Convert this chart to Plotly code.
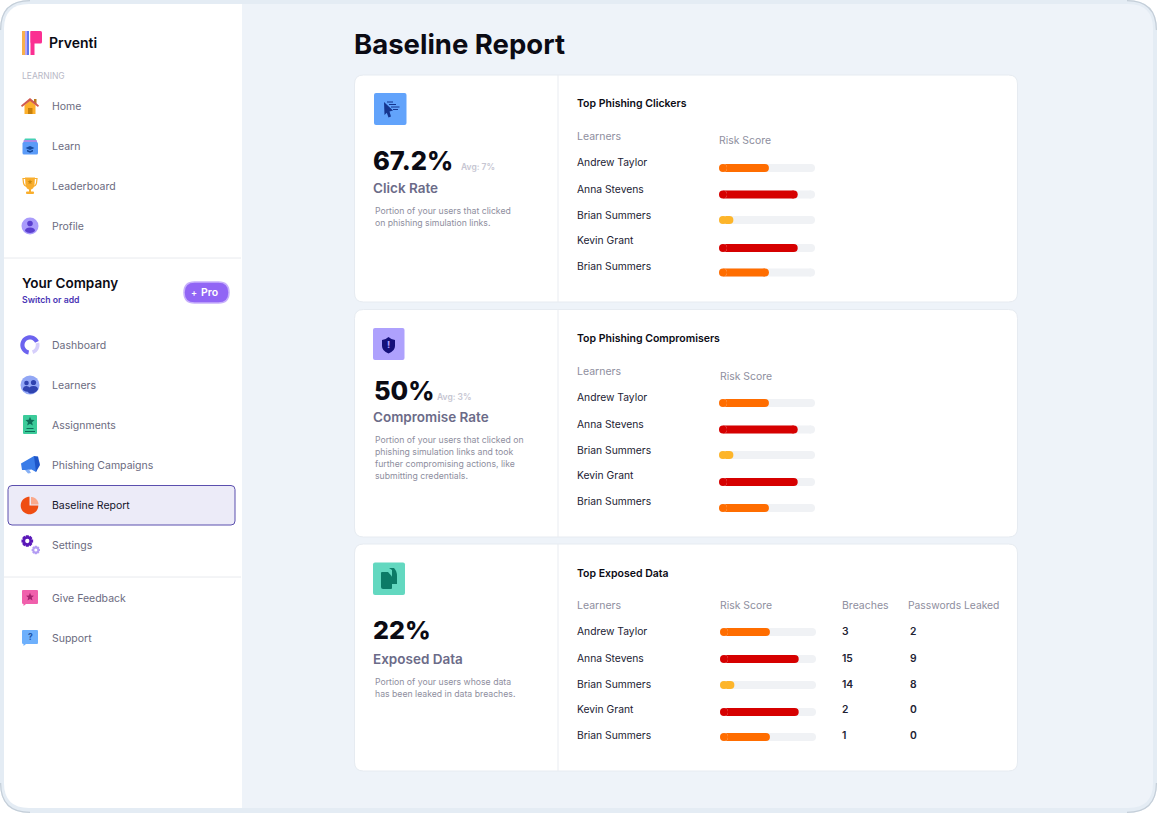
import math
import plotly.graph_objects as go

# ---------- data ----------
LEARNERS = ["Andrew Taylor", "Anna Stevens", "Brian Summers", "Kevin Grant", "Brian Summers"]
RISK_SCORES = [52, 82, 15, 82, 52]
RISK_COLORS = ["#FF6D00", "#D60000", "#FDB52A", "#D60000", "#FF6D00"]
TRACK_MAX = [100, 100, 100, 100, 100]
BREACHES = [3, 15, 14, 2, 1]
PASSWORDS_LEAKED = [2, 9, 8, 0, 0]
NAV_LEARNING = ["Home", "Learn", "Leaderboard", "Profile"]
NAV_COMPANY = ["Dashboard", "Learners", "Assignments", "Phishing Campaigns", "Baseline Report", "Settings"]
NAV_FOOTER = ["Give Feedback", "Support"]
STAT_VALUES = ["67.2%", "50%", "22%"]
STAT_AVGS = ["Avg: 7%", "Avg: 3%", ""]
STAT_NAMES = ["Click Rate", "Compromise Rate", "Exposed Data"]
STAT_DESCS = [
    ["Portion of your users that clicked", "on phishing simulation links."],
    ["Portion of your users that clicked on", "phishing simulation links and took",
     "further compromising actions, like", "submitting credentials."],
    ["Portion of your users whose data", "has been leaked in data breaches."],
]
CARD_TITLES = ["Top Phishing Clickers", "Top Phishing Compromisers", "Top Exposed Data"]

W, H = 1157, 813
FONT = "Inter"
shapes, annos = [], []


def txt(x, y, s, size=10.5, color="#6B6B80", weight=400, anchor="left", family=FONT):
    annos.append(dict(x=x, y=y, xref="x", yref="y", text=str(s), showarrow=False, xanchor=anchor,
                      yanchor="middle", align="left", borderpad=0, borderwidth=0,
                      font=dict(family=family, size=size, color=color, weight=weight)))


def path(d, fill, line=None, lw=0):
    shapes.append(dict(type="path", path=d, xref="x", yref="y", layer="below", fillcolor=fill,
                       line=dict(color=line or "rgba(0,0,0,0)", width=lw)))


def rr(x0, y0, x1, y1, r=0, fill="#fff", line=None, lw=0, corners=(1, 1, 1, 1)):
    tl, tr, br, bl = [r * c for c in corners]
    d = (f"M{x0+tl},{y0} L{x1-tr},{y0} Q{x1},{y0} {x1},{y0+tr} L{x1},{y1-br} Q{x1},{y1} {x1-br},{y1} "
         f"L{x0+bl},{y1} Q{x0},{y1} {x0},{y1-bl} L{x0},{y0+tl} Q{x0},{y0} {x0+tl},{y0} Z")
    path(d, fill, line, lw)


def circle(cx, cy, r, fill):
    shapes.append(dict(type="circle", xref="x", yref="y", layer="below", x0=cx - r, x1=cx + r,
                       y0=cy - r, y1=cy + r, fillcolor=fill, line=dict(width=0)))


def poly(pts, fill):
    path("M" + " L".join(f"{a:.2f},{b:.2f}" for a, b in pts) + " Z", fill)


def star(cx, cy, r, fill):
    pts = []
    for i in range(10):
        rad = r if i % 2 == 0 else r * 0.45
        a = -math.pi / 2 + i * math.pi / 5
        pts.append((cx + rad * math.cos(a), cy + rad * math.sin(a)))
    poly(pts, fill)


def gear(cx, cy, r, fill, hole="#FFFFFF"):
    pts = []
    for i in range(8):
        a0 = i * math.pi / 4
        for da, rad in ((-0.24, r), (0.24, r), (0.42, r * 0.74), (math.pi / 4 - 0.42, r * 0.74)):
            pts.append((cx + rad * math.cos(a0 + da), cy + rad * math.sin(a0 + da)))
    poly(pts, fill)
    circle(cx, cy, r * 0.36, hole)


def arc_ring(cx, cy, r0, r1, a0, a1, fill, n=30):
    pts = []
    for i in range(n + 1):
        a = math.radians(a0 + (a1 - a0) * i / n)
        pts.append((cx + r1 * math.cos(a), cy + r1 * math.sin(a)))
    for i in range(n, -1, -1):
        a = math.radians(a0 + (a1 - a0) * i / n)
        pts.append((cx + r0 * math.cos(a), cy + r0 * math.sin(a)))
    poly(pts, fill)


def corner_stroke(d):
    shapes.append(dict(type="path", path=d, xref="x", yref="y", layer="below",
                       line=dict(color="#C4CED8", width=1.2)))


# ---------- frame ----------
rr(0, 0, W, H, 30, "#E4ECF4")
R = 30
corner_stroke(f"M0.6,{R} Q0.6,0.6 {R},0.6")
corner_stroke(f"M{W-R},0.6 Q{W-0.6},0.6 {W-0.6},{R}")
corner_stroke(f"M0.6,{H-R} Q0.6,{H-0.6} {R},{H-0.6}")
corner_stroke(f"M{W-R},{H-0.6} Q{W-0.6},{H-0.6} {W-0.6},{H-R}")
rr(242, 4, W - 4, 808, 25, "#EEF3F9", corners=(0, 1, 1, 0))
rr(4, 4, 242, 808, 25, "#FFFFFF", corners=(1, 0, 0, 1))

# ---------- logo ----------
rr(22, 31, 25, 55, 0, "#F9B04B")
rr(25, 31, 27, 55, 0, "#B7A4F5")
rr(27, 31, 29, 55, 0, "#5E78EE")
rr(30.5, 31, 34.5, 55, 0, "#FB2F92")
rr(30.5, 31, 42, 43.5, 1.5, "#FB2F92")
txt(49, 42.5, "Prventi", 14, "#0B0B14", 600)
txt(21.5, 76, "LEARNING", 8.5, "#B8B8C6")

# ---------- sidebar ----------
LEARN_Y = [106, 146, 186, 226]
COMP_Y = [345, 385, 425, 465, 505, 545]
FOOT_Y = [598, 638]
rr(8, 485.5, 235, 525, 4, "#ECEBF8", "#5B4FAE", 1)
shapes.append(dict(type="line", xref="x", yref="y", layer="below", x0=4, x1=241, y0=258, y1=258,
                   line=dict(color="#E8EAEE", width=1)))
shapes.append(dict(type="line", xref="x", yref="y", layer="below", x0=4, x1=241, y0=577, y1=577,
                   line=dict(color="#E8EAEE", width=1)))
for lab, y in zip(NAV_LEARNING, LEARN_Y):
    txt(52, y, lab)
for lab, y in zip(NAV_COMPANY, COMP_Y):
    txt(52, y, lab, color="#14142B" if lab == "Baseline Report" else "#6B6B80")
for lab, y in zip(NAV_FOOTER, FOOT_Y):
    txt(52, y, lab)
txt(21.5, 283, "Your Company", 13.5, "#0B0B14", 600)
txt(22, 300, "Switch or add", 8.7, "#4A35B5", 600)
rr(184, 282, 229, 303, 10.5, "#9165F5", "#C7B0FB", 1.5)
txt(190.5, 292, "+", 9, "#FFFFFF", 600)
txt(201, 292.5, "Pro", 10.5, "#FFFFFF", 600)

# home
poly([(24.5, 105), (30, 100.5), (35.5, 105), (35.5, 114), (24.5, 114)], "#FDB02B")
rr(28, 108, 32.5, 114, 0, "#C7800B")
rr(34, 99, 36.5, 104, 0, "#B77A1B")
poly([(21, 105.5), (30, 98), (39, 105.5), (38, 107), (30, 101), (22, 107)], "#CF5A50")
# learn
rr(24.5, 138.5, 36, 142, 1, "#45D0B4")
rr(23.5, 140, 37, 144, 1, "#A98BE6")
rr(22.5, 142, 38, 154.5, 1.5, "#5B9BF8")
poly([(25.5, 148), (30, 146), (34.5, 148), (30, 150)], "#164B9E")
poly([(27, 149.7), (30, 151), (33, 149.7), (33, 151.5), (30, 152.8), (27, 151.5)], "#164B9E")
# trophy
path("M23,178.5 L37,178.5 L36.5,183 Q36,186 33,186.5 L27,186.5 Q24,186 23.5,183 Z", "rgba(0,0,0,0)", "#F9AE2D", 1.2)
path("M25,177.5 L35,177.5 L34.5,185 Q33.5,189 31,189.5 L29,189.5 Q26.5,189 25.5,185 Z", "#F9AE2D")
star(30, 182, 2.6, "#C98A10")
rr(29, 189, 31, 192, 0, "#F9AE2D")
rr(26, 191.5, 34, 194, 1, "#F9AE2D")
# profile
circle(30, 226, 8.5, "#A99BFB")
circle(30, 223.5, 2.8, "#5A3FD0")
path("M25,231 Q25,227.5 30,227.5 Q35,227.5 35,231 Q33,233 30,233 Q27,233 25,231 Z", "#5A3FD0")
# dashboard
arc_ring(30, 345, 5.8, 9.5, -15, 70, "#D6CFFB")
arc_ring(30, 345, 5.5, 9.7, 100, 335, "#6C63EF")
# learners
circle(30, 385, 9.5, "#92A7F5")
circle(26.5, 383, 2.3, "#2F43B0")
circle(33.5, 382.5, 2.6, "#2F43B0")
path("M22.8,390 Q23,386 26.5,386 Q29,386 29.5,388 L29.5,392 Q25,392 22.8,390 Z", "#2F43B0")
path("M27.5,390.5 Q28.5,386 33.5,386 Q38,386 38,389.5 Q35,394 30,393.5 Q28,393 27.5,390.5 Z", "#2F43B0")
# assignments
rr(23, 415, 37, 434, 1, "#3CCB9A")
star(30, 421.5, 4.8, "#0E6D58")
rr(26.5, 428, 33.5, 429, 0, "#0E6D58")
rr(25, 431, 35, 432, 0, "#0E6D58")
# phishing
poly([(21, 463.5), (34, 456), (39.5, 463), (36, 472), (31.5, 469.5), (27, 470), (22, 470)], "#3A7CE8")
poly([(34, 456), (38, 456.5), (40, 465), (36, 472)], "#1E55C8")
poly([(25, 470), (29, 469.5), (31, 473), (28, 473.5)], "#86B0F5")
# baseline pie
arc_ring(29.5, 505.5, 0, 8.8, 0, 270, "#EF4D12")
arc_ring(31, 504.5, 0, 7.5, 270, 360, "#FAA98C", n=12)
# settings
gear(27.3, 541, 6, "#5A18B8")
gear(35.8, 550, 4.3, "#B39CF3")
# feedback
path("M22,591 Q22,590 23,590 L37,590 Q38,590 38,591 L38,603 Q38,604 37,604 L26,604 L23.5,606 L23.5,604 Q22,604 22,603 Z", "#F060AC")
star(30, 597, 4.2, "#A3246F")
# support
path("M22,631 Q22,630 23,630 L37,630 Q38,630 38,631 L38,643 Q38,644 37,644 L26,644 L23.5,646 L23.5,644 Q22,644 22,643 Z", "#6EB0FC")
txt(30, 637, "?", 8.5, "#1E55A8", 700, anchor="center")

# ---------- main ----------
txt(354, 44, "Baseline Report", 27.5, "#0B0B14", 700)
CARDS = [(75, 302), (309.5, 537), (544, 771)]
for top, bot in CARDS:
    rr(354.5, top, 1017.5, bot, 9, "#FFFFFF", "#E6EBF1", 1)
    shapes.append(dict(type="line", xref="x", yref="y", layer="below", x0=558, x1=558, y0=top, y1=bot,
                       line=dict(color="#E9ECF1", width=1)))

# stat icons
rr(374, 93, 406.5, 125, 2, "#62A3FB")
poly([(384, 102), (393, 110.5), (389.5, 111.5), (391, 116.5), (388.5, 117.5), (386.8, 112.8), (384.5, 115)], "#15358F")
for yy, x0, x1 in ((102, 387, 393), (104.5, 389, 396), (107, 391, 399.5), (109.5, 393, 398)):
    shapes.append(dict(type="line", xref="x", yref="y", layer="below", x0=x0, x1=x1, y0=yy, y1=yy,
                       line=dict(color="#15358F", width=1)))
rr(373, 328, 404.5, 360, 2, "#AEA1FD")
path("M382,340 Q386,339.5 388.5,337 Q391,339.5 395,340 L395,346 Q395,351 388.5,353.5 Q382,351 382,346 Z", "#15107A")
txt(388.5, 344.5, "!", 9, "#AEA1FD", 800, anchor="center")
rr(373, 562.5, 405, 595, 2, "#63D8C0")
path("M389,568 L394,568 Q397,571 397,576 L397,584 L392,584 L392,570 Z", "#0C7B67")
path("M382,572 L388,572 L392,576.5 L392,588 Q392,589 391,589 L383,589 Q381,589 381,587 L381,573 Q381,572 382,572 Z", "#0C7B67")

# stat text
STAT_X = [373, 373.5, 373]
STAT_SIZE = [25.5, 25.5, 25]
STAT_Y = [160.5, 390.5, 630]
AVG_POS = [(461, 167), (437, 397), None]
NAME_Y = [187.5, 417, 659]
DESC_Y = [[211, 222.5], [440, 452, 464, 476], [682, 694]]
for i in range(3):
    txt(STAT_X[i], STAT_Y[i], STAT_VALUES[i], STAT_SIZE[i], "#0B0B14", 800)
    if AVG_POS[i]:
        txt(AVG_POS[i][0], AVG_POS[i][1], STAT_AVGS[i], 8.5, "#C6C6D2", 600)
    txt(373, NAME_Y[i], STAT_NAMES[i], 13.5, "#6B6B88", 600)
    for line, y in zip(STAT_DESCS[i], DESC_Y[i]):
        txt(375, y, line, 8.7, "#8E8E9E")

# tables
TITLE_Y = [103.5, 338, 573]
HEAD_Y = [136.5, 371, 605.5]
RISK_HEAD = [(719, 140.5), (719.5, 376), (719.5, 605)]
NAME_Y_ROWS = [[162, 189, 215, 240, 266], [397, 424, 450, 475, 501], [631, 658, 684, 709, 735]]
BAR_Y_ROWS = [[168, 194.5, 220, 248, 272.5], [403, 429.5, 455, 482, 508], [632, 659, 685, 712, 737]]
BAR_X = [(719, 815), (719, 815), (720, 816)]
for i in range(3):
    txt(577, TITLE_Y[i], CARD_TITLES[i], 10.5, "#0B0B14", 600)
    txt(577, HEAD_Y[i], "Learners", 10.5, "#8E8E9E")
    txt(RISK_HEAD[i][0], RISK_HEAD[i][1], "Risk Score", 10.4, "#8E8E9E")
    for n, y in zip(LEARNERS, NAME_Y_ROWS[i]):
        txt(577, y, n, 10.3, "#222233")
txt(842, 605.5, "Breaches", 10.5, "#8E8E9E")
txt(907.5, 605, "Passwords Leaked", 10.3, "#8E8E9E")
for b, p, y in zip(BREACHES, PASSWORDS_LEAKED, NAME_Y_ROWS[2]):
    txt(842, y, b, 10.3, "#222233", 600)
    txt(910, y, p, 10.3, "#222233", 600)

# ---------- risk bars: bar body plus round caps, all on the score axis ----------
CAP = 100 * 4 / 96  # cap radius (4 px) in score units on a 96 px wide 0-100 axis
fig = go.Figure()
layout_axes = {}


def pill(values, colors, ys, ax):
    fig.add_trace(go.Bar(x=[v - 2 * CAP for v in values], base=CAP, y=ys, orientation="h", width=8,
                         xaxis=ax, yaxis="y", marker=dict(color=colors, line=dict(width=0)),
                         showlegend=False, hoverinfo="skip"))
    fig.add_trace(go.Scatter(x=[CAP] * len(values) + [v - CAP for v in values], y=list(ys) * 2,
                             mode="markers", xaxis=ax, yaxis="y", showlegend=False, hoverinfo="skip",
                             marker=dict(size=8, color=list(colors) * 2, line=dict(width=0))))


for i in range(3):
    ax = f"x{i + 2}"
    pill(TRACK_MAX, ["#F0F2F5"] * 5, BAR_Y_ROWS[i], ax)
    pill(RISK_SCORES, RISK_COLORS, BAR_Y_ROWS[i], ax)
    layout_axes[f"xaxis{i + 2}"] = dict(domain=[BAR_X[i][0] / W, BAR_X[i][1] / W], range=[0, 100],
                                        visible=False, anchor="y", fixedrange=True)

fig.update_layout(
    width=W, height=H, margin=dict(l=0, r=0, t=0, b=0, pad=0), autosize=False,
    paper_bgcolor="#FFFFFF", plot_bgcolor="rgba(0,0,0,0)", barmode="overlay",
    xaxis=dict(range=[0, W], domain=[0, 1], visible=False, fixedrange=True),
    yaxis=dict(range=[H, 0], domain=[0, 1], visible=False, fixedrange=True),
    shapes=shapes, annotations=annos, showlegend=False, **layout_axes,
)
fig.write_html("out.html", config=dict(displayModeBar=False),
               post_script="document.body.style.margin='0';document.body.style.overflow='hidden';")
